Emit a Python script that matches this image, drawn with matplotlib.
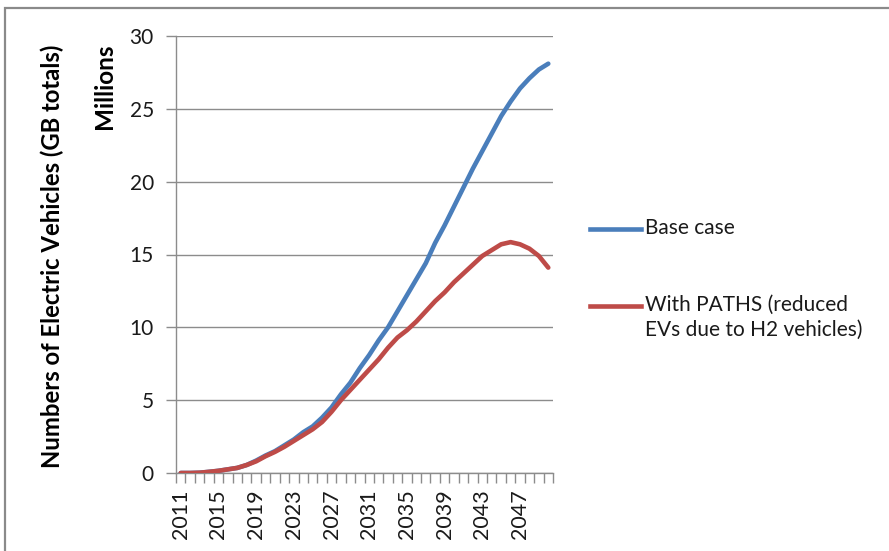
import matplotlib
matplotlib.use("Agg")
import matplotlib.pyplot as plt
from matplotlib.lines import Line2D
from matplotlib.patches import Rectangle

# ---------------------------------------------------------------
# data (millions of EVs, GB totals)
# ---------------------------------------------------------------
years = list(range(2011, 2051))
base_case = [0.0, 0.0, 0.02, 0.08, 0.15, 0.25, 0.35, 0.55, 0.85, 1.2,
             1.5, 1.9, 2.3, 2.8, 3.2, 3.8, 4.5, 5.4, 6.2, 7.2,
             8.1, 9.1, 10.0, 11.1, 12.2, 13.3, 14.4, 15.8, 17.0, 18.3,
             19.6, 20.9, 22.1, 23.3, 24.5, 25.5, 26.4, 27.1, 27.7, 28.1]
with_paths = [0.0, 0.0, 0.02, 0.08, 0.15, 0.25, 0.35, 0.55, 0.8, 1.15,
              1.45, 1.8, 2.2, 2.6, 3.0, 3.5, 4.2, 5.0, 5.7, 6.4,
              7.1, 7.8, 8.6, 9.3, 9.8, 10.4, 11.1, 11.8, 12.4, 13.1,
              13.7, 14.3, 14.9, 15.3, 15.7, 15.85, 15.7, 15.4, 14.9, 14.1]
year_labels = years[::4]
y_ticks = [0, 5, 10, 15, 20, 25, 30]

series_names = ["Base case", "With PATHS (reduced\nEVs due to H2 vehicles)"]

BLUE = "#4A7EBB"
RED = "#BE4B48"
GRID = "#8C8C8C"
TXT = "#1A1A1A"

plt.rcParams["font.family"] = ["Lato", "DejaVu Sans"]

W, H = 889, 551
fig = plt.figure(figsize=(W / 100, H / 100), dpi=100)
fig.patch.set_facecolor("white")

# outer frame (only top/left edges visible in the original)
fig.add_artist(Rectangle((5 / W, -0.2), 1.3, 1.2 - 8 / H,
                         transform=fig.transFigure, fill=False,
                         edgecolor="#8A8A8A", linewidth=1.6))

ax = fig.add_axes([176 / W, 1 - 473 / H, 377 / W, 437 / H])

ax.plot(years, base_case, color=BLUE, lw=3.3, solid_capstyle="round", zorder=3)
ax.plot(years, with_paths, color=RED, lw=3.3, solid_capstyle="round", zorder=4)

ax.set_xlim(years[0] - 0.5, years[-1] + 0.5)
ax.set_ylim(0, 30)

ax.set_yticks(y_ticks)
ax.set_yticklabels([str(v) for v in y_ticks], fontsize=15, color=TXT)
ax.yaxis.grid(True, color=GRID, linewidth=1.0)
ax.set_axisbelow(True)

ax.set_xticks(year_labels)
ax.set_xticklabels([str(y) for y in year_labels], rotation=90, fontsize=15.5,
                   color=TXT, va="top")
ax.set_xticks([y - 0.5 for y in years] + [years[-1] + 0.5], minor=True)
ax.tick_params(axis="x", which="major", length=0, pad=12)
ax.tick_params(axis="x", which="minor", length=7, color=GRID, width=1.0)
ax.tick_params(axis="y", length=7, color=GRID, width=1.0, pad=9)

for side in ["top", "right"]:
    ax.spines[side].set_visible(False)
for side in ["left", "bottom"]:
    ax.spines[side].set_color(GRID)
    ax.spines[side].set_linewidth(1.0)

# axis titles
fig.text(52 / W, 1 - 256 / H, "Numbers of Electric Vehicles (GB totals)",
         rotation=90, ha="center", va="center", fontsize=17.2,
         fontweight="bold", color="#000000")
fig.text(105 / W, 1 - 86 / H, "Millions", rotation=90, ha="center",
         va="center", fontsize=17.5, fontweight="bold", color="#000000")

# legend (Excel style: handle aligned with first text line)
for name, color, yy in zip(series_names, [BLUE, RED], [229, 306]):
    fig.add_artist(Line2D([590 / W, 641 / W], [1 - yy / H] * 2,
                          transform=fig.transFigure, color=color, lw=3.3))
    fig.text(645 / W, 1 - (yy - 11) / H, name, ha="left", va="top",
             fontsize=15, color=TXT, linespacing=1.3)

fig.savefig("out.png", dpi=100, facecolor="white")
